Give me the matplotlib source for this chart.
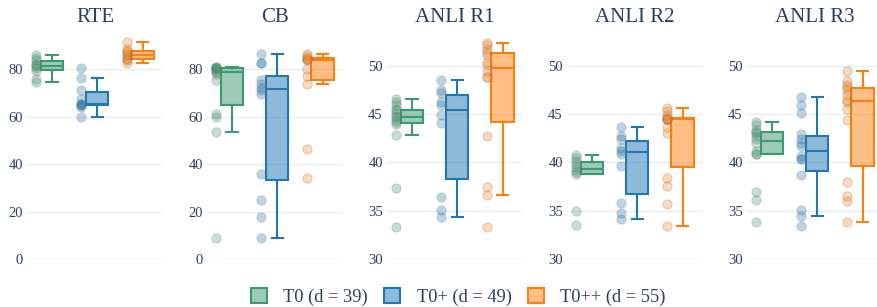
"""plot.py: box plots of T0 / T0+ / T0++ scores on five tasks."""
import matplotlib as mpl
mpl.use('Agg')
import numpy as np
import matplotlib.pyplot as plt
from matplotlib.patches import Patch

tasks = ['RTE', 'CB', 'ANLI R1', 'ANLI R2', 'ANLI R3']
models = ['T0 (d = 39)', 'T0+ (d = 49)', 'T0++ (d = 55)']
colors = ['#3d9970', '#1f77b4', '#ff7f0e']

# scores per prompt
rte_t0 = [74.6, 75.8, 79.3, 80.4, 81.4, 81.8, 82.4, 83.8, 84.9, 85.9]
rte_t0p = [59.9, 64.2, 64.8, 65.1, 65.6, 65.6, 67.7, 71.5, 76.2, 80.7]
rte_t0pp = [82.8, 83.9, 84.2, 84.9, 85.9, 86.3, 87.3, 87.7, 88.5, 91.5]

cb_t0 = [8.8, 53.6, 59.9, 61.3, 75.5, 78.0, 79.0, 79.2, 80.0, 80.5,
         80.7, 80.7, 81.0, 81.0]
cb_t0p = [8.8, 17.9, 24.9, 35.9, 69.7, 71.1, 72.3, 73.9, 75.6, 82.6,
          82.6, 86.3]
cb_t0pp = [34.0, 46.6, 73.7, 77.0, 80.0, 83.8, 84.2, 84.5, 84.9, 85.5, 86.3]

r1_t0 = [33.3, 37.4, 42.8, 44.0, 44.2, 44.4, 44.7, 44.8, 45.1, 45.4,
         45.5, 45.9, 46.3, 46.6]
r1_t0p = [34.3, 35.1, 36.4, 44.1, 44.9, 45.9, 46.3, 47.2, 47.5, 48.5]
r1_t0pp = [33.3, 36.6, 37.5, 42.7, 48.8, 48.8, 49.5, 50.1, 50.4, 51.1,
           51.4, 51.7, 52.2, 52.4]

r2_t0 = [33.5, 35.0, 38.8, 39.0, 39.2, 39.5, 39.8, 40.1, 40.5, 40.8]
r2_t0p = [34.1, 34.8, 35.8, 39.6, 40.9, 41.2, 41.5, 42.4, 42.7, 43.7]
r2_t0pp = [33.4, 35.7, 37.6, 38.4, 43.0, 43.7, 44.5, 44.5, 44.5, 44.5,
           44.6, 44.9, 45.3, 45.6]

r3_t0 = [33.8, 36.1, 36.9, 40.9, 40.9, 41.2, 42.0, 42.4, 42.7, 43.0,
         43.2, 43.4, 43.9, 44.2]
r3_t0p = [33.4, 34.5, 35.1, 38.7, 40.4, 40.4, 40.7, 41.7, 42.0, 42.4,
          42.9, 45.1, 46.0, 46.8]
r3_t0pp = [33.8, 36.0, 36.5, 38.0, 44.4, 45.5, 46.3, 46.5, 47.0, 47.5,
           47.8, 48.0, 48.4, 49.5]

scores = [[rte_t0, rte_t0p, rte_t0pp],
          [cb_t0, cb_t0p, cb_t0pp],
          [r1_t0, r1_t0p, r1_t0pp],
          [r2_t0, r2_t0p, r2_t0pp],
          [r3_t0, r3_t0p, r3_t0pp]]
ylims = [(0, 94.5), (0, 94.5), (30, 53.2), (30, 53.2), (30, 53.2)]
yticks = [[0, 20, 40, 60, 80], [0, 20, 40, 60, 80],
          [30, 35, 40, 45, 50], [30, 35, 40, 45, 50], [30, 35, 40, 45, 50]]

TXT = '#2a3f5f'
GRID = '#e8eef7'
plt.rcParams['font.family'] = ['Liberation Serif', 'DejaVu Serif']

W, H = 878, 307
fig = plt.figure(figsize=(W / 100, H / 100), dpi=100)

for k, task in enumerate(tasks):
    left = 27 + 180 * k
    ax = fig.add_axes([left / W, (H - 259) / H, 136 / W, 224 / H])
    for s in ax.spines.values():
        s.set_visible(False)
    ax.yaxis.grid(True, color=GRID, lw=1)
    ax.set_axisbelow(True)
    ax.tick_params(axis='y', length=0, pad=3, labelsize=10.5,
                   labelcolor=TXT)
    ax.set_title(task, fontsize=15, color=TXT, pad=9)
    for i, vals in enumerate(scores[k]):
        c = colors[i]
        bp = ax.boxplot([vals], positions=[i], widths=0.49,
                        patch_artist=True, showfliers=False,
                        capwidths=0.25, whis=1.5)
        for b in bp['boxes']:
            b.set_facecolor(mpl.colors.to_rgba(c, 0.5))
            b.set_edgecolor(c)
            b.set_linewidth(1.5)
        for part in ('whiskers', 'caps', 'medians'):
            for ln in bp[part]:
                ln.set_color(c)
                ln.set_linewidth(1.5)
        ax.scatter(np.full(len(vals), i - 0.35), vals, s=45,
                   facecolor=mpl.colors.to_rgba(c, 0.3),
                   edgecolor=(0.45, 0.45, 0.45, 0.25), linewidth=0.8,
                   zorder=3, clip_on=False)
    ax.set_xlim(-0.55, 2.45)
    ax.set_ylim(*ylims[k])
    ax.set_yticks(yticks[k])
    ax.set_xticks([])

handles = [Patch(facecolor=mpl.colors.to_rgba(c, 0.5), edgecolor=c, lw=1.5)
           for c in colors]
fig.legend(handles, models, loc='center', bbox_to_anchor=(0.522, 0.033),
           ncol=3, frameon=False, fontsize=13.2, handlelength=0.85,
           handleheight=0.85, handletextpad=0.9, columnspacing=0.9,
           labelcolor=TXT)

fig.savefig('out.png', dpi=100)
